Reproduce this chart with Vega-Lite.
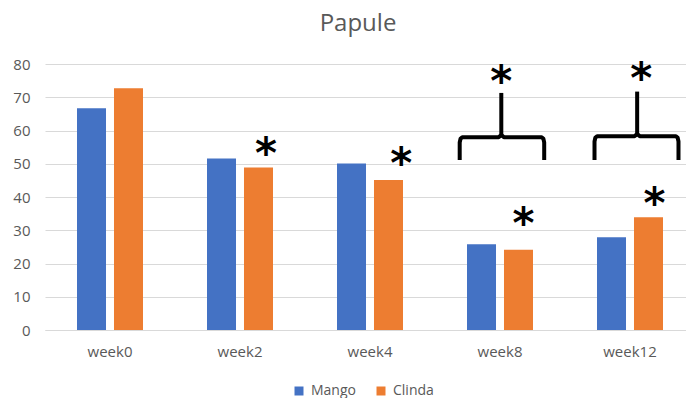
{
  "$schema": "https://vega.github.io/schema/vega-lite/v6.json",
  "width": 650,
  "height": 266,
  "autosize": {"type": "none"},
  "padding": {"left": 45, "top": 64, "right": -9, "bottom": 68},
  "background": "white",
  "title": {
    "text": "Papule",
    "font": "Open Sans",
    "fontSize": 24,
    "fontWeight": "normal",
    "color": "#595959",
    "anchor": "middle",
    "frame": "group",
    "dx": -12,
    "baseline": "alphabetic",
    "offset": 2
  },
  "config": {
    "view": {"stroke": null},
    "font": "Open Sans",
    "axis": {
      "labelFont": "Open Sans",
      "labelFontSize": 15,
      "labelColor": "#595959",
      "title": null,
      "ticks": false,
      "labelOverlap": false
    },
    "legend": {
      "labelFont": "Open Sans",
      "labelFontSize": 14,
      "labelColor": "#595959"
    }
  },
  "datasets": {
    "scores": [
      {"week": "week0", "group": "Mango", "score": 66.7},
      {"week": "week0", "group": "Clinda", "score": 72.7},
      {"week": "week2", "group": "Mango", "score": 51.6},
      {"week": "week2", "group": "Clinda", "score": 48.9},
      {"week": "week4", "group": "Mango", "score": 50.1},
      {"week": "week4", "group": "Clinda", "score": 45.1},
      {"week": "week8", "group": "Mango", "score": 25.8},
      {"week": "week8", "group": "Clinda", "score": 24.1},
      {"week": "week12", "group": "Mango", "score": 27.9},
      {"week": "week12", "group": "Clinda", "score": 33.9}
    ],
    "braces": [
      {"brace": "week8", "step": 1, "pos": 3.19, "level": 51.1},
      {"brace": "week8", "step": 2, "pos": 3.19, "level": 56.4},
      {"brace": "week8", "step": 3, "pos": 3.196, "level": 57.5},
      {"brace": "week8", "step": 4, "pos": 3.21, "level": 58.0},
      {"brace": "week8", "step": 5, "pos": 3.49, "level": 58.0},
      {"brace": "week8", "step": 6, "pos": 3.51, "level": 58.6},
      {"brace": "week8", "step": 7, "pos": 3.53, "level": 58.0},
      {"brace": "week8", "step": 8, "pos": 3.82, "level": 58.0},
      {"brace": "week8", "step": 9, "pos": 3.834, "level": 57.5},
      {"brace": "week8", "step": 10, "pos": 3.84, "level": 56.4},
      {"brace": "week8", "step": 11, "pos": 3.84, "level": 51.1},
      {"brace": "week12", "step": 1, "pos": 4.227, "level": 51.1},
      {"brace": "week12", "step": 2, "pos": 4.227, "level": 56.7},
      {"brace": "week12", "step": 3, "pos": 4.233, "level": 57.8},
      {"brace": "week12", "step": 4, "pos": 4.247, "level": 58.3},
      {"brace": "week12", "step": 5, "pos": 4.535, "level": 58.3},
      {"brace": "week12", "step": 6, "pos": 4.555, "level": 58.9},
      {"brace": "week12", "step": 7, "pos": 4.575, "level": 58.3},
      {"brace": "week12", "step": 8, "pos": 4.853, "level": 58.3},
      {"brace": "week12", "step": 9, "pos": 4.867, "level": 57.8},
      {"brace": "week12", "step": 10, "pos": 4.873, "level": 56.7},
      {"brace": "week12", "step": 11, "pos": 4.873, "level": 51.1}
    ],
    "stems": [
      {"brace": "week8", "pos": 3.51, "base": 58.0, "top": 71.3},
      {"brace": "week12", "pos": 4.555, "base": 58.3, "top": 71.7}
    ],
    "stars": [
      {"pos": 1.70, "level": 55.1},
      {"pos": 2.74, "level": 52.1},
      {"pos": 3.68, "level": 34.0},
      {"pos": 4.688, "level": 40.0},
      {"pos": 3.51, "level": 76.7},
      {"pos": 4.586, "level": 77.7}
    ]
  },
  "layer": [
    {
      "data": {"name": "scores"},
      "mark": {"type": "bar"},
      "encoding": {
        "x": {
          "field": "week",
          "type": "nominal",
          "sort": ["week0", "week2", "week4", "week8", "week12"],
          "scale": {"paddingInner": 0, "paddingOuter": 0},
          "axis": {
            "labelAngle": 0,
            "labelPadding": 14,
            "domainColor": "#d9d9d9",
            "domainWidth": 1,
            "grid": false
          }
        },
        "xOffset": {
          "field": "group",
          "type": "nominal",
          "sort": ["Mango", "Clinda"],
          "scale": {"paddingInner": 0.216, "paddingOuter": 0.865}
        },
        "y": {
          "field": "score",
          "type": "quantitative",
          "scale": {"domain": [0, 80], "nice": false},
          "axis": {
            "values": [0, 10, 20, 30, 40, 50, 60, 70, 80],
            "domain": false,
            "gridColor": "#d9d9d9",
            "gridWidth": 1,
            "labelPadding": 15
          }
        },
        "color": {
          "field": "group",
          "type": "nominal",
          "sort": ["Mango", "Clinda"],
          "scale": {"domain": ["Mango", "Clinda"], "range": ["#4472C4", "#ED7D31"]},
          "legend": {
            "title": null,
            "orient": "none",
            "direction": "horizontal",
            "legendX": 247,
            "legendY": 320,
            "symbolType": "square",
            "symbolSize": 81,
            "symbolStrokeWidth": 0,
            "labelOffset": 5,
            "columnPadding": 18
          }
        }
      }
    },
    {
      "data": {"name": "braces"},
      "mark": {"type": "line", "color": "black", "strokeWidth": 4, "strokeJoin": "round"},
      "encoding": {
        "x": {"field": "pos", "type": "quantitative", "scale": {"domain": [0, 5], "nice": false, "zero": false}, "axis": null},
        "y": {"field": "level", "type": "quantitative", "scale": {"domain": [0, 80], "nice": false}, "axis": null},
        "detail": {"field": "brace"},
        "order": {"field": "step", "type": "quantitative"}
      }
    },
    {
      "data": {"name": "stems"},
      "mark": {"type": "rule", "color": "black", "strokeWidth": 4},
      "encoding": {
        "x": {"field": "pos", "type": "quantitative", "scale": {"domain": [0, 5], "nice": false, "zero": false}, "axis": null},
        "y": {"field": "base", "type": "quantitative", "scale": {"domain": [0, 80], "nice": false}, "axis": null},
        "y2": {"field": "top"}
      }
    },
    {
      "data": {"name": "stars"},
      "mark": {"type": "text", "text": "*", "font": "DejaVu Sans", "fontWeight": "bold", "fontSize": 42, "color": "black", "baseline": "middle", "align": "center", "dy": 8},
      "encoding": {
        "x": {"field": "pos", "type": "quantitative", "scale": {"domain": [0, 5], "nice": false, "zero": false}, "axis": null},
        "y": {"field": "level", "type": "quantitative", "scale": {"domain": [0, 80], "nice": false}, "axis": null}
      }
    }
  ],
  "resolve": {"scale": {"x": "independent", "y": "independent"}}
}
